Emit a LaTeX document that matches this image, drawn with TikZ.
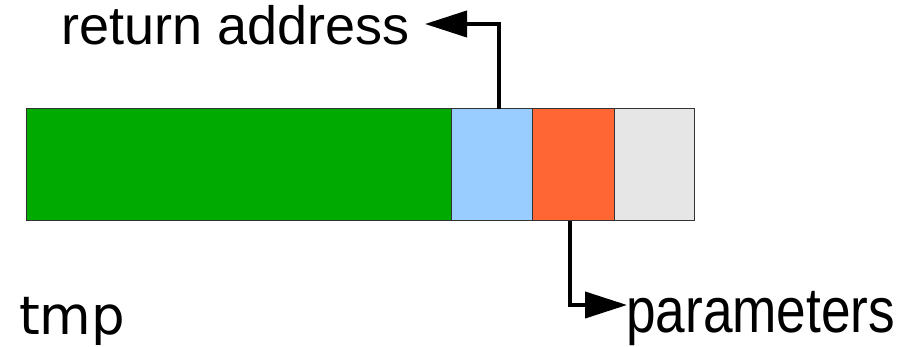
\documentclass[tikz,border=0pt]{standalone}
\usepackage{fontspec}
\setmainfont{Liberation Sans}
\newfontfamily\dejavu{DejaVu Sans}
\usetikzlibrary{arrows.meta}
\definecolor{cgreen}{HTML}{00AA00}
\definecolor{cblue}{HTML}{99CCFF}
\definecolor{corange}{HTML}{FF6633}
\definecolor{cgray}{HTML}{E6E6E6}
\definecolor{cedge}{HTML}{333333}
\begin{document}
\begin{tikzpicture}[x=1pt,y=-1pt,
  cell/.style={draw=cedge,line width=1pt,inner sep=0pt,outer sep=0pt,anchor=north west,minimum height=112pt},
  lbl/.style={inner sep=0pt,anchor=base west,font=\fontsize{54}{60}\selectfont},
  arr/.style={line width=4pt,-{Triangle[length=42pt,width=26pt]}}]
\useasboundingbox (0,0) rectangle (916,347);
\node[cell,fill=cgreen,minimum width=425pt] (green) at (26,109) {};
\node[cell,fill=cblue,minimum width=81pt] (blue) at (451,109) {};
\node[cell,fill=corange,minimum width=82pt] (orange) at (532,109) {};
\node[cell,fill=cgray,minimum width=80pt] (gray) at (614,109) {};
\node[lbl] (ret) at (61.5,45) {return address};
\node[lbl] (par) at (626,333) {\scalebox{0.985}[1.18]{parameters}};
\node[lbl,font=\dejavu\fontsize{53}{60}\selectfont] (tmp) at (19,335) {tmp};
\coordinate (rtip) at (425,24);
\coordinate (ptip) at (627,305);
\draw[arr] ([xshift=7.5pt]blue.north) |- (rtip);
\draw[arr] ([xshift=-3pt]orange.south) |- (ptip);
\end{tikzpicture}
\end{document}
